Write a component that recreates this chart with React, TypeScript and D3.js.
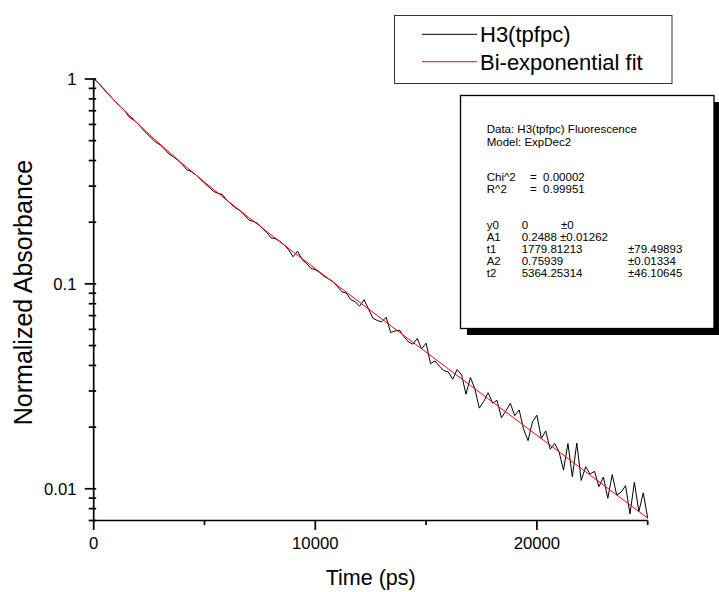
import React from "react";
import * as d3 from "d3";

// Measured normalized absorbance, sampled every 200 ps from 0 to 25000 ps
const timeStepPs = 200;
const absorbance = [
  1.0,
  0.9612, 0.9112, 0.8591, 0.8144, 0.7695,
  0.7351, 0.7022, 0.6515, 0.6308, 0.604,
  0.5704, 0.5418, 0.5146, 0.4916, 0.4775,
  0.4547, 0.4305, 0.4169, 0.4014, 0.3822,
  0.3606, 0.3537, 0.3412, 0.3255, 0.3105,
  0.2966, 0.2832, 0.2767, 0.2733, 0.2567,
  0.2454, 0.2346, 0.2281, 0.2168, 0.205,
  0.2017, 0.1973, 0.1877, 0.1785, 0.1679,
  0.1662, 0.1609, 0.1548, 0.1466, 0.1356,
  0.1444, 0.1314, 0.1259, 0.1191, 0.1173,
  0.1136, 0.1088, 0.1059, 0.1026, 0.09712,
  0.09146, 0.09009, 0.08387, 0.08169, 0.07779,
  0.08384, 0.07549, 0.068, 0.06624, 0.06525,
  0.06877, 0.05788, 0.05897, 0.05942, 0.05534,
  0.05212, 0.05077, 0.05412, 0.04818, 0.05136,
  0.04081, 0.04206, 0.03962, 0.03774, 0.03719,
  0.03425, 0.03819, 0.03598, 0.02896, 0.03493,
  0.03076, 0.02475, 0.02668, 0.02942, 0.0262,
  0.027, 0.02222, 0.02396, 0.02612, 0.02275,
  0.02424, 0.01951, 0.01718, 0.0212, 0.02285,
  0.01758, 0.01917, 0.0156, 0.01663, 0.01515,
  0.01233, 0.01664, 0.01144, 0.01671, 0.01098,
  0.01281, 0.0118, 0.01216, 0.01024, 0.01141,
  0.008982, 0.01172, 0.009328, 0.009614, 0.01036,
  0.007537, 0.01076, 0.007741, 0.009551, 0.007185,
];

// Bi-exponential fit curve values every 1000 ps
const fitTimes = [
  0, 1000, 2000, 3000, 4000, 5000, 6000, 7000, 8000, 9000, 10000, 11000, 12000,
  13000, 14000, 15000, 16000, 17000, 18000, 19000, 20000, 21000, 22000, 23000,
  24000, 25000,
];
const fitValues = [
  1.0082, 0.77209, 0.60393, 0.48021, 0.38656, 0.31399, 0.25669, 0.21082,
  0.1737, 0.14343, 0.11863, 0.09822, 0.08138, 0.06747, 0.05595, 0.04641,
  0.0385, 0.03195, 0.0265, 0.02199, 0.01825, 0.01515, 0.01257, 0.01043,
  0.00866, 0.00719,
];

const xDomain = [0, 25000];
const yDomain = [0.007, 1];
const xMajorTicks = [0, 10000, 20000];
const xMinorTicks = [5000, 15000, 25000];
const yMajorTicks = [1, 0.1, 0.01];
const yMajorLabels = ["1", "0.1", "0.01"];

const xTitle = "Time (ps)";
const yTitle = "Normalized Absorbance";
const legendLabels = ["H3(tpfpc)", "Bi-exponential fit"];
const legendColors = ["#000000", "#ff0000"];

const fitHeader = ["Data: H3(tpfpc) Fluorescence", "Model: ExpDec2"];
const fitStatNames = ["Chi^2", "R^2"];
const fitStatValues = ["0.00002", "0.99951"];
const fitParamNames = ["y0", "A1", "t1", "A2", "t2"];
const fitParamValues = ["0", "0.2488 ±0.01262", "1779.81213", "0.75939", "5364.25314"];
const fitParamErrors = ["±0", "", "±79.49893", "±0.01334", "±46.10645"];

const FONT = "'Liberation Sans', Arial, Helvetica, sans-serif";

export default function App() {
  const W = 719;
  const H = 592;
  const left = 93.7;
  const right = 647.7;
  const top = 79;
  const bottom = 520.5;

  const x = d3.scaleLinear().domain(xDomain).range([left, right]);
  const y = d3.scaleLog().domain(yDomain).range([bottom, top]);

  const dataPts = absorbance.map((v, i) => [i * timeStepPs, v] as [number, number]);
  const fitPts = fitTimes.map((t, i) => [t, fitValues[i]] as [number, number]);

  const dataLine = d3
    .line<[number, number]>()
    .x((d) => x(d[0]))
    .y((d) => y(d[1]));
  const fitLine = d3
    .line<[number, number]>()
    .x((d) => x(d[0]))
    .y((d) => y(d[1]))
    .curve(d3.curveMonotoneX);

  // minor log ticks
  const yMinor: number[] = [];
  [0.001, 0.01, 0.1].forEach((dec) => {
    for (let k = 2; k <= 9; k++) {
      const v = +(dec * k).toPrecision(3);
      if (v >= yDomain[0] - 1e-9 && v <= yDomain[1] + 1e-9) yMinor.push(v);
    }
  });

  const axisW = 1.7;

  // legend
  const legX = 394.5, legY = 15.5, legW = 277.5, legH = 68;
  const legRowY = [34.3, 61.7];

  // fit info box
  const boxX = 460.5, boxY = 95.5, boxW = 253.5, boxH = 233;
  const shadow = 6.5;
  const fs = 11.5;
  const tx = 486.7;
  const valX = 521.7;

  return (
    <svg
      width={W}
      height={H}
      style={{ position: "absolute", left: 0, top: 0, background: "#fff" }}
      fontFamily={FONT}
    >
      <rect x={0} y={0} width={W} height={H} fill="#fff" />

      {/* data & fit */}
      <path d={dataLine(dataPts) || ""} fill="none" stroke="#000" strokeWidth={1} />
      <path d={fitLine(fitPts) || ""} fill="none" stroke="#ff0000" strokeWidth={1} />

      {/* axes */}
      <line x1={left} x2={left} y1={top} y2={bottom + axisW / 2} stroke="#000" strokeWidth={axisW} />
      <line x1={left - axisW / 2} x2={right} y1={bottom} y2={bottom} stroke="#000" strokeWidth={axisW} />

      {/* y ticks */}
      {yMajorTicks.map((v, i) => (
        <g key={"ym" + i}>
          <line x1={left - 9} x2={left + 2.5} y1={y(v)} y2={y(v)} stroke="#000" strokeWidth={axisW} />
          <text
            x={76.5}
            y={y(v)}
            dy="0.36em"
            textAnchor="end"
            fontSize={16.7}
            fill="#000"
          >
            {yMajorLabels[i]}
          </text>
        </g>
      ))}
      {yMinor.map((v, i) => (
        <line key={"yn" + i} x1={left - 5} x2={left + 2.5} y1={y(v)} y2={y(v)} stroke="#000" strokeWidth={axisW} />
      ))}

      {/* x ticks */}
      {xMajorTicks.map((v, i) => (
        <g key={"xm" + i}>
          <line x1={x(v)} x2={x(v)} y1={bottom} y2={bottom + 9.5} stroke="#000" strokeWidth={axisW} />
          <text x={x(v)} y={549} textAnchor="middle" fontSize={16.7} fill="#000">
            {String(v)}
          </text>
        </g>
      ))}
      {xMinorTicks.map((v, i) => (
        <line key={"xn" + i} x1={x(v)} x2={x(v)} y1={bottom} y2={bottom + 4.5} stroke="#000" strokeWidth={axisW} />
      ))}

      {/* axis titles */}
      <text x={(left + right) / 2} y={585} textAnchor="middle" fontSize={21.5} fill="#000">
        {xTitle}
      </text>
      <text
        transform={`translate(32,292.5) rotate(-90)`}
        textAnchor="middle"
        fontSize={25}
        fill="#000"
      >
        {yTitle}
      </text>

      {/* legend */}
      <rect x={legX} y={legY} width={legW} height={legH} fill="#fff" stroke="#333" strokeWidth={1} />
      {legendLabels.map((lab, i) => (
        <g key={"lg" + i}>
          <line x1={422} x2={477} y1={legRowY[i]} y2={legRowY[i]} stroke={legendColors[i]} strokeWidth={1} />
          <text x={480} y={legRowY[i] + 7.9} fontSize={22} fill="#000">
            {lab}
          </text>
        </g>
      ))}

      {/* fit info box */}
      <rect x={boxX + shadow} y={boxY + shadow} width={boxW} height={boxH} fill="#000" />
      <rect x={boxX} y={boxY} width={boxW} height={boxH} fill="#fff" stroke="#000" strokeWidth={1.3} />
      <g fontSize={fs} fill="#000">
        <text x={tx} y={132.5}>{fitHeader[0]}</text>
        <text x={tx} y={146}>{fitHeader[1]}</text>
        {fitStatNames.map((n, i) => (
          <g key={"fs" + i}>
            <text x={tx} y={180.7 + i * 12}>{n}</text>
            <text x={530} y={180.7 + i * 12} style={{ whiteSpace: "pre" }}>
              {"=  " + fitStatValues[i]}
            </text>
          </g>
        ))}
        {fitParamNames.map((n, i) => (
          <g key={"fp" + i}>
            <text x={tx} y={229 + i * 11.95}>{n}</text>
            <text x={valX} y={229 + i * 11.95}>{fitParamValues[i]}</text>
            {fitParamErrors[i] && (
              <text x={fitParamValues[i].length <= 2 ? 561 : 628} y={229 + i * 11.95}>
                {fitParamErrors[i]}
              </text>
            )}
          </g>
        ))}
      </g>
    </svg>
  );
}
